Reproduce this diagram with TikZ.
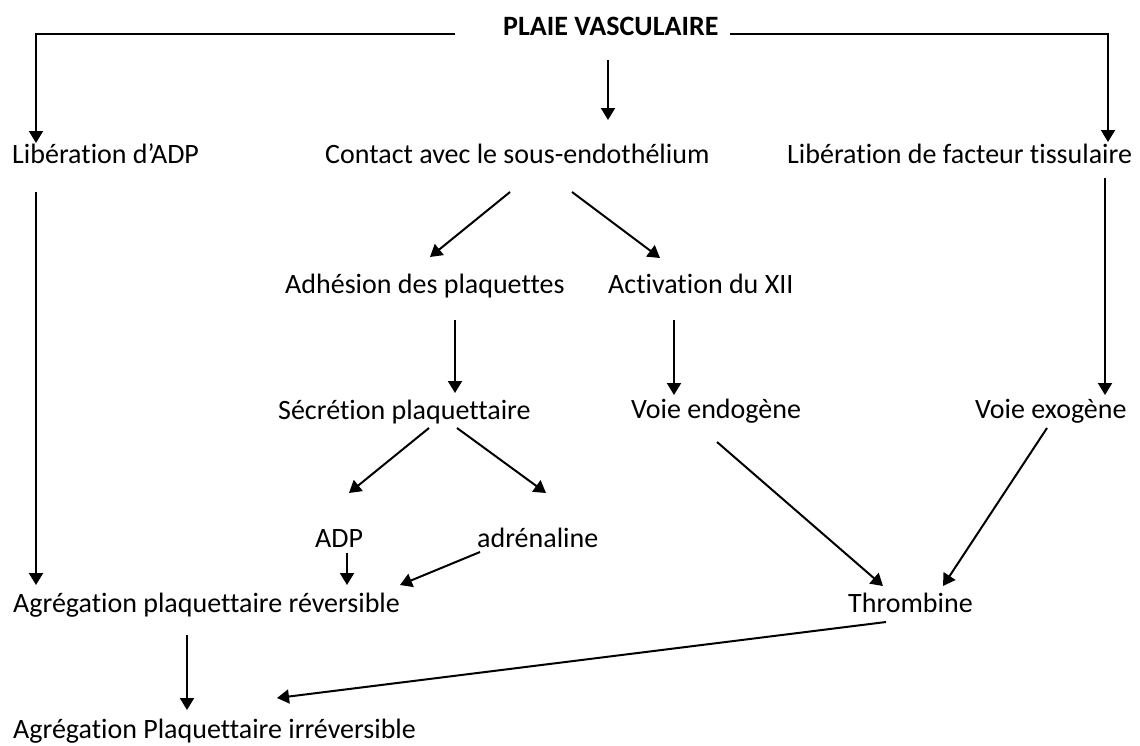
\documentclass[tikz,border=0pt]{standalone}
\usepackage{fontspec}
\setmainfont{Carlito}[Ligatures={NoCommon}]
\usetikzlibrary{arrows.meta}
\begin{document}
\begin{tikzpicture}[x=1pt,y=-1pt,
  lbl/.style={anchor=base west,inner sep=0pt,font=\fontsize{28}{32}\selectfont},
  arr/.style={line width=2pt,-{Triangle[width=14pt,length=12pt]}}]
\useasboundingbox[fill=white] (0,0) rectangle (1140,745);
\node[lbl,font=\fontsize{28}{32}\selectfont\bfseries] (P) at (503,35) {PLAIE VASCULAIRE};
\node[lbl] (L1) at (12,163) {Libération d’ADP};
\node[lbl] (C) at (325,163) {Contact avec le sous-endothélium};
\node[lbl] (L2) at (787,163) {Libération de facteur tissulaire};
\node[lbl] (A) at (285,293) {Adhésion des plaquettes};
\node[lbl] (X) at (608,293) {Activation du XII};
\node[lbl] (S) at (278,419) {Sécrétion plaquettaire};
\node[lbl] (E) at (631,418) {Voie endogène};
\node[lbl] (O) at (975,418) {Voie exogène};
\node[lbl] (D) at (315,547) {ADP};
\node[lbl] (R) at (477,547) {adrénaline};
\node[lbl] (G1) at (13,612) {Agrégation plaquettaire réversible};
\node[lbl] (T) at (848,612) {Thrombine};
\node[lbl] (G2) at (13,738) {Agrégation Plaquettaire irréversible};
\draw[arr] ([shift={(-48,-1)}]P.base west) -| ([shift={(24,-20)}]L1.base west);
\draw[arr] ([shift={(227,-1)}]P.base west) -| ([shift={(321,-21)}]L2.base west);
\draw[arr] ([shift={(105,25)}]P.base west) -- ([shift={(283,-43)}]C.base west);
\draw[arr] ([shift={(24,29)}]L1.base west) -- ([shift={(23,-27)}]G1.base west);
\draw[arr] ([shift={(318,15)}]L2.base west) -- ([shift={(130,-23)}]O.base west);
\draw[arr] ([shift={(185,29)}]C.base west) -- ([shift={(145,-36)}]A.base west);
\draw[arr] ([shift={(247,29)}]C.base west) -- ([shift={(52,-35)}]X.base west);
\draw[arr] ([shift={(170,27)}]A.base west) -- ([shift={(177,-26)}]S.base west);
\draw[arr] ([shift={(66,27)}]X.base west) -- ([shift={(43,-23)}]E.base west);
\draw[arr] ([shift={(151,9)}]S.base west) -- ([shift={(34,-54)}]D.base west);
\draw[arr] ([shift={(179,9)}]S.base west) -- ([shift={(69,-54)}]R.base west);
\draw[arr] ([shift={(32,6)}]D.base west) -- ([shift={(334,-27)}]G1.base west);
\draw[arr] ([shift={(3,5)}]R.base west) -- ([shift={(387,-27)}]G1.base west);
\draw[arr] ([shift={(86,24)}]E.base west) -- ([shift={(35,-26)}]T.base west);
\draw[arr] ([shift={(72,10)}]O.base west) -- ([shift={(95,-26)}]T.base west);
\draw[arr] ([shift={(174,23)}]G1.base west) -- ([shift={(174,-28)}]G2.base west);
\draw[arr] ([shift={(38,10)}]T.base west) -- ([shift={(264,-40)}]G2.base west);
\end{tikzpicture}
\end{document}
